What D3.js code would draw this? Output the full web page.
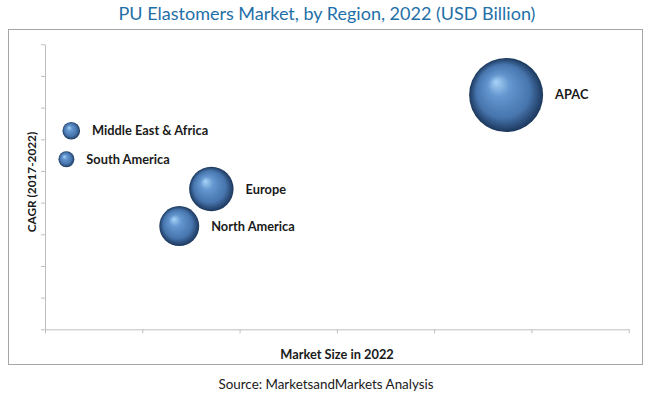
<!DOCTYPE html>
<html>
<head>
<meta charset="utf-8">
<script src="https://cdn.jsdelivr.net/npm/d3@7"></script>
<style>
  body { margin: 0; background: #fff; }
  svg { display: block; font-family: Lato, "Open Sans", sans-serif; }
</style>
</head>
<body>
<div id="chart"></div>
<script>
// regions, market size 2022 (USD Bn, x and bubble size), CAGR 2017-2022 (y)
var regions = ["APAC", "Europe", "North America", "Middle East & Africa", "South America"];
var marketSize = [4.74, 1.71, 1.38, 0.27, 0.22];
var cagr = [7.4, 4.43, 3.26, 6.27, 5.37];
var xTicks = [0, 1, 2, 3, 4, 5, 6];
var yTicks = [0, 1, 2, 3, 4, 5, 6, 7, 8, 9];

var width = 650, height = 396;
var margin = {left: 45, right: 21.3, top: 44.3, bottom: 66.7};

var svg = d3.select("#chart").append("svg")
    .attr("width", width)
    .attr("height", height);

var defs = svg.append("defs");
var grad = defs.append("radialGradient")
    .attr("id", "ball")
    .attr("cx", "50%").attr("cy", "50%").attr("r", "50%")
    .attr("fx", "36%").attr("fy", "32%");
grad.append("stop").attr("offset", "0%").attr("stop-color", "#a9d3f7");
grad.append("stop").attr("offset", "30%").attr("stop-color", "#6496cf");
grad.append("stop").attr("offset", "72%").attr("stop-color", "#4775ad");
grad.append("stop").attr("offset", "100%").attr("stop-color", "#1b375c");

// frame
svg.append("rect")
    .attr("x", 8.5).attr("y", 29.5)
    .attr("width", 634).attr("height", 335)
    .attr("fill", "none")
    .attr("stroke", "#a6a6a6");

var x = d3.scaleLinear().domain([0, 6]).range([margin.left, width - margin.right]);
var y = d3.scaleLinear().domain([0, 9]).range([height - margin.bottom, margin.top]);
var r = d3.scaleSqrt().domain([0, d3.max(marketSize)]).range([0, 37]);

svg.append("g")
    .attr("transform", "translate(0," + y(0) + ")")
    .call(d3.axisBottom(x).tickValues(xTicks).tickFormat("").tickSizeInner(4).tickSizeOuter(0));
svg.append("g")
    .attr("transform", "translate(" + x(0) + ",0)")
    .call(d3.axisLeft(y).tickValues(yTicks).tickFormat("").tickSizeInner(4).tickSizeOuter(0));
svg.selectAll(".domain, .tick line").attr("stroke", "#bfbfbf");

var data = regions.map(function (d, i) {
    return {name: d, size: marketSize[i], cagr: cagr[i]};
});

var bubble = svg.selectAll(".bubble")
    .data(data)
    .enter()
    .append("g")
    .attr("class", "bubble")
    .attr("transform", function (d) {return "translate(" + x(d.size) + "," + y(d.cagr) + ")";});

bubble.append("circle")
    .attr("r", function (d) {return r(d.size);})
    .attr("fill", "url(#ball)");

bubble.append("text")
    .attr("x", function (d) {return r(d.size) + 12;})
    .attr("dy", "0.35em")
    .attr("font-size", 12.8)
    .attr("font-weight", "bold")
    .attr("fill", "#1a1a1a")
    .text(function (d) {return d.name;});

svg.append("text")
    .attr("x", 327).attr("y", 20)
    .attr("text-anchor", "middle")
    .attr("font-size", 18)
    .attr("fill", "#1f6fa8")
    .text("PU Elastomers Market, by Region, 2022 (USD Billion)");

svg.append("text")
    .attr("transform", "translate(36,182) rotate(-90)")
    .attr("text-anchor", "middle")
    .attr("font-size", 11.8)
    .attr("font-weight", "bold")
    .attr("fill", "#1a1a1a")
    .text("CAGR (2017-2022)");

svg.append("text")
    .attr("x", 337).attr("y", 359)
    .attr("text-anchor", "middle")
    .attr("font-size", 12.8)
    .attr("font-weight", "bold")
    .attr("fill", "#1a1a1a")
    .text("Market Size in 2022");

svg.append("text")
    .attr("x", 326).attr("y", 389)
    .attr("text-anchor", "middle")
    .attr("font-size", 13.4)
    .attr("fill", "#1a1a1a")
    .text("Source: MarketsandMarkets Analysis");
</script>
</body>
</html>
